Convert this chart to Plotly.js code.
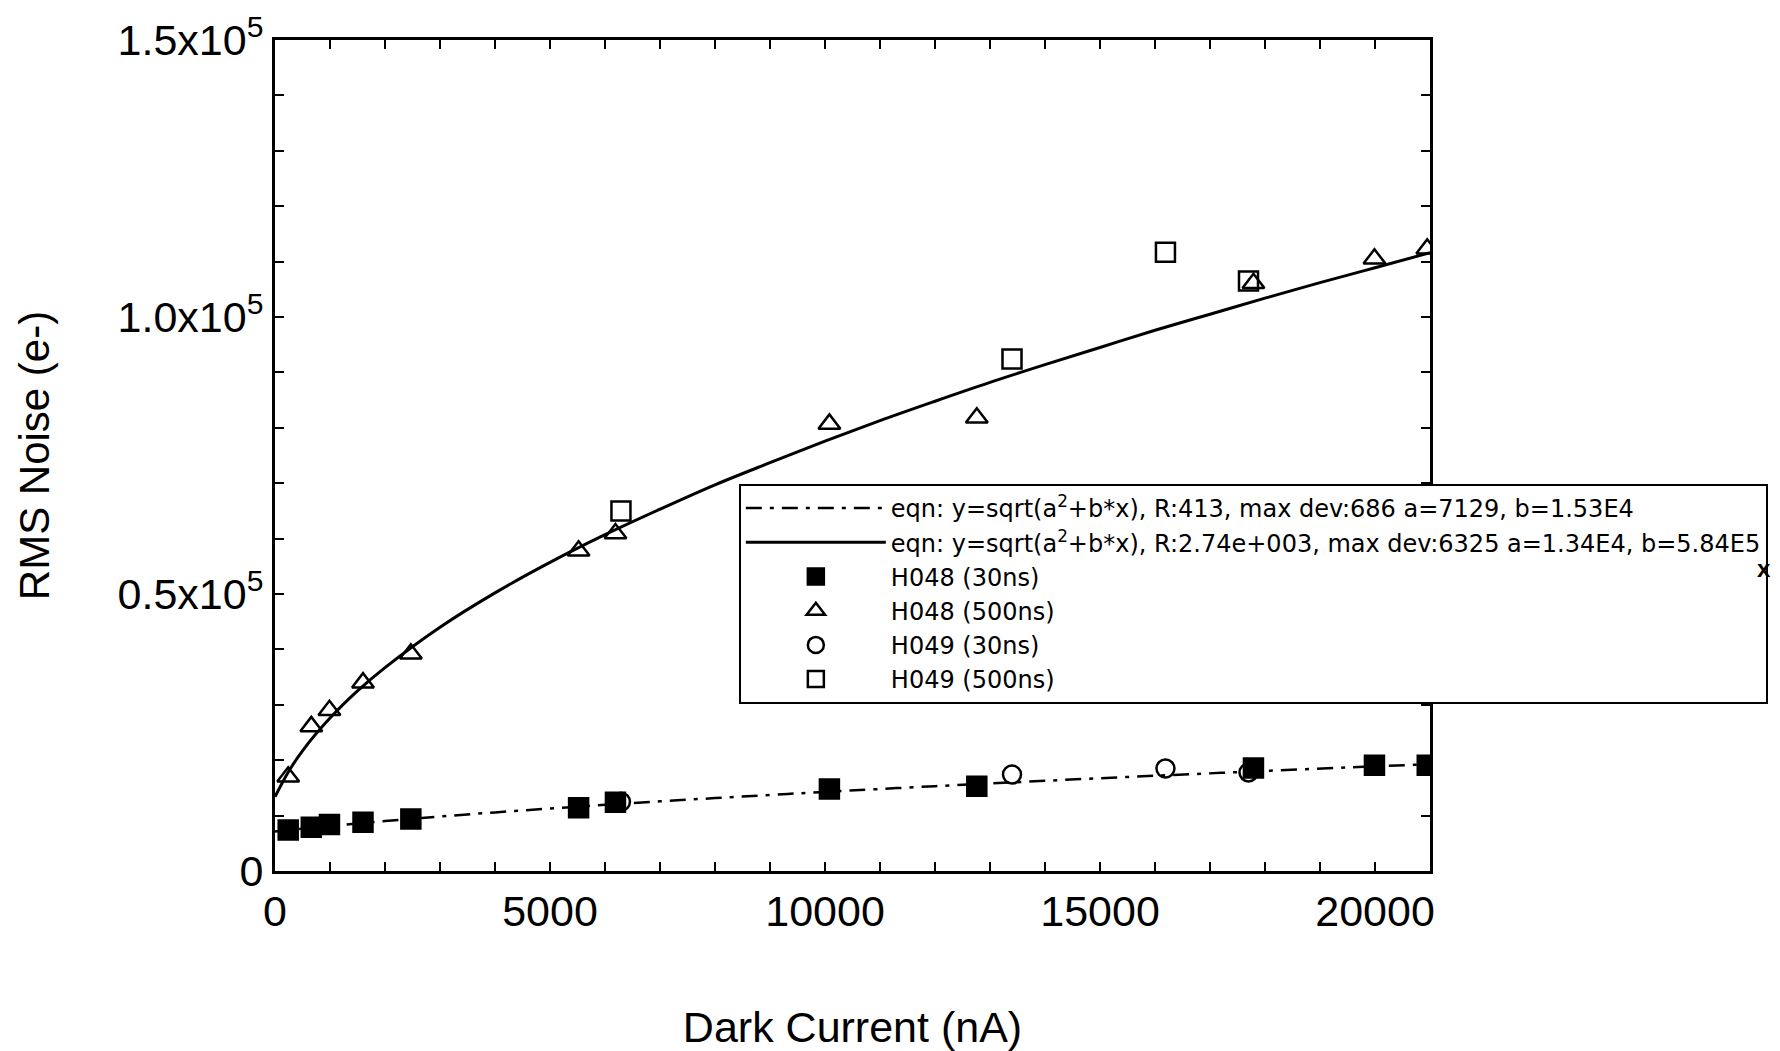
<!DOCTYPE html>
<html><head><meta charset="utf-8">
<script src="https://cdn.plot.ly/plotly-3.0.1.min.js"></script>
<style>html,body{margin:0;padding:0;background:#fff;}#chart{width:1780px;height:1051px;}</style>
</head><body><div id="chart"></div>
<script>
// Dark current (nA) for the two devices
const h048_x = [240, 660, 990, 1600, 2470, 5520, 6190, 10080, 12760, 17790, 19990, 20950];
const h049_x = [6290, 13400, 16190, 17700];
// RMS noise (e-)
const h048_30ns_y  = [7400, 7900, 8400, 8800, 9400, 11400, 12400, 14800, 15300, 18600, 19100, 19100];
const h048_500ns_y = [17000, 26100, 29000, 34000, 39200, 57800, 60900, 80700, 81800, 106100, 110500, 112300];
const h049_30ns_y  = [12500, 17400, 18500, 17800];
const h049_500ns_y = [65000, 92400, 111700, 106500];
// Fit curves
const fit30_x = [0, 1000, 2000, 3000, 4000, 5000, 6000, 7000, 8000, 9000, 10000, 12000, 14000, 16000, 18000, 20000, 21000];
const fit30_y = [7130, 8130, 9020, 9840, 10580, 11280, 11940, 12570, 13160, 13730, 14280, 15310, 16280, 17190, 18060, 18890, 19290];
const fit500_x = [0, 250, 500, 1000, 1500, 2000, 3000, 4000, 5000, 6000, 7000, 8000, 9000, 10000, 11000, 12000, 13000, 14000, 15000, 16000, 17000, 18000, 19000, 20000, 21000];
const fit500_y = [13400, 18000, 21700, 27600, 32500, 36700, 44000, 50200, 55700, 60700, 65300, 69700, 73700, 77600, 81300, 84800, 88200, 91400, 94500, 97600, 100500, 103400, 106200, 108900, 111600];
// Legend names
const names = [
  "eqn: y=sqrt(a<sup>2</sup>+b*x), R:413, max dev:686 a=7129, b=1.53E4",
  "eqn: y=sqrt(a<sup>2</sup>+b*x), R:2.74e+003, max dev:6325 a=1.34E4, b=5.84E5",
  "H048 (30ns)", "H048 (500ns)", "H049 (30ns)", "H049 (500ns)"
];
// Tick labels
const xTickVals = [0, 5000, 10000, 15000, 20000];
const xTickText = ["0", "5000", "10000", "15000", "20000"];
const yTickVals = [0, 50000, 100000, 150000];
const yTickText = ["0", "0.5x10<sup>5</sup>", "1.0x10<sup>5</sup>", "1.5x10<sup>5</sup>"];

const FONT = "Liberation Sans, Arial, sans-serif";
const LFONT = "DejaVu Sans, Liberation Sans, sans-serif";
const mk = (sym, size) => ({symbol: sym, size: size, color: "#000", line: {color: "#000", width: 2.5}});

const data = [
  {x: fit30_x, y: fit30_y, name: names[0], mode: "lines", line: {color: "#000", width: 2.5, dash: "16px,8px,4px,8px", shape: "spline"}},
  {x: fit500_x, y: fit500_y, name: names[1], mode: "lines", line: {color: "#000", width: 3, shape: "spline"}},
  {x: h048_x, y: h048_30ns_y, name: names[2], mode: "markers", marker: mk("square", 19)},
  {x: h048_x, y: h048_500ns_y, name: names[3], mode: "markers", marker: mk("triangle-up-open", 19)},
  {x: h049_x, y: h049_30ns_y, name: names[4], mode: "markers", marker: mk("circle-open", 18)},
  {x: h049_x, y: h049_500ns_y, name: names[5], mode: "markers", marker: mk("square-open", 19)}
];

const axisCommon = {
  showline: true, linecolor: "#000", linewidth: 3, mirror: "ticks",
  ticks: "inside", ticklen: 9, tickwidth: 2, tickcolor: "#000",
  showgrid: false, zeroline: false, tickmode: "array",
  tickfont: {family: FONT, size: 43, color: "#000"}
};

const layout = {
  width: 1780, height: 1051,
  paper_bgcolor: "#fff", plot_bgcolor: "#fff",
  margin: {l: 275, r: 347, t: 40, b: 180, pad: 0},
  font: {family: FONT, color: "#000"},
  showlegend: true,
  xaxis: Object.assign({}, axisCommon, {
    range: [0, 21000], tickvals: xTickVals, ticktext: xTickText,
    minor: {tickmode: "linear", tick0: 0, dtick: 1000, ticks: "inside", ticklen: 9, tickwidth: 2, tickcolor: "#000"},
    title: {text: "Dark Current (nA)", font: {family: FONT, size: 43, color: "#000"}, standoff: 80}
  }),
  yaxis: Object.assign({}, axisCommon, {
    range: [0, 150000], tickvals: yTickVals, ticktext: yTickText,
    minor: {tickmode: "linear", tick0: 0, dtick: 10000, ticks: "inside", ticklen: 9, tickwidth: 2, tickcolor: "#000"},
    title: {text: "RMS Noise (e-)", font: {family: FONT, size: 42, color: "#000"}, standoff: 55}
  }),
  legend: {
    x: 0.4016, y: 0.4657, xanchor: "left", yanchor: "top",
    bgcolor: "#fff", bordercolor: "#000", borderwidth: 2,
    font: {family: LFONT, size: 24, color: "#000"},
    itemwidth: 140, tracegroupgap: 0
  },
  annotations: [
    {xref: "paper", yref: "paper", x: 1.289, y: 0.3646, xanchor: "center", yanchor: "middle",
     text: "<b>x</b>", showarrow: false, font: {family: FONT, size: 24, color: "#000"}}
  ]
};

Plotly.newPlot("chart", data, layout, {displayModeBar: false, staticPlot: true});
</script>
</body></html>
